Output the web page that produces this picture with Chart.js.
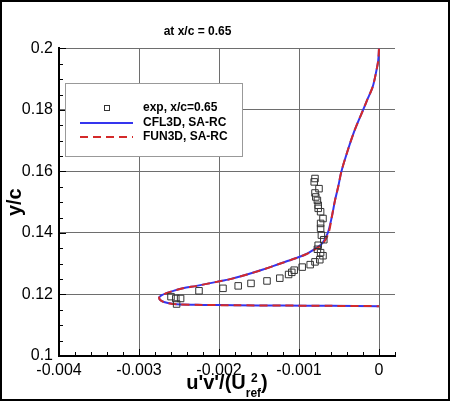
<!DOCTYPE html>
<html>
<head>
<meta charset="utf-8">
<title>u'v' profile at x/c = 0.65</title>
<script src="https://cdn.jsdelivr.net/npm/chart.js@4.4.0/dist/chart.umd.min.js"></script>
<style>
  html, body { margin: 0; padding: 0; background: #fff; }
  canvas { display: block; }
</style>
</head>
<body>
<canvas id="myChart" width="450" height="401"></canvas>
<script>
// experiment, x/c = 0.65
const expU = [-0.00080, -0.00081, -0.00075, -0.00080, -0.00079, -0.00077, -0.00076, -0.00076, -0.00073, -0.00070,
              -0.00073, -0.00073, -0.00072, -0.00069, -0.00076, -0.00077, -0.00073, -0.00070, -0.00074, -0.00080,
              -0.00086, -0.00096, -0.00106, -0.00109, -0.00113, -0.00124, -0.00140, -0.00160, -0.00176, -0.00195,
              -0.00225, -0.00248, -0.00254, -0.00260, -0.00253];
const expY = [0.1577, 0.1566, 0.1544, 0.1530, 0.1517, 0.1506, 0.1490, 0.1480, 0.1469, 0.1447,
              0.1431, 0.1415, 0.1393, 0.1378, 0.1360, 0.1347, 0.1336, 0.1326, 0.1313, 0.1306,
              0.1297, 0.1289, 0.1279, 0.1272, 0.1265, 0.1253, 0.1244, 0.1236, 0.1228, 0.1220,
              0.1212, 0.1187, 0.1187, 0.1193, 0.1169];

// CFL3D, SA-RC
const cflU = [0, -0.00001, -0.00004, -0.00008, -0.00015, -0.00020, -0.00027, -0.00032, -0.00039, -0.00047,
              -0.00051, -0.00055, -0.00059, -0.00064, -0.00071, -0.00082, -0.00092, -0.00106, -0.00125,
              -0.00145, -0.00165, -0.00186, -0.00203, -0.00228, -0.00245, -0.00258, -0.00266, -0.00272, -0.00275,
              -0.00272, -0.00264, -0.00253, -0.00220, -0.00180, -0.00120, -0.00060, 0];
const cflY = [0.2000, 0.1960, 0.1918, 0.1874, 0.1831, 0.1799, 0.1756, 0.1723, 0.1669, 0.1600,
              0.1550, 0.1506, 0.1452, 0.1400, 0.1366, 0.1345, 0.1330, 0.1316, 0.1299,
              0.1281, 0.1265, 0.1250, 0.1241, 0.1228, 0.1220, 0.1211, 0.1204, 0.1197, 0.1189,
              0.1179, 0.1172, 0.1168, 0.1166, 0.1165, 0.1164, 0.1163, 0.1162];

// FUN3D, SA-RC
const funU = [0, -0.00001, -0.00004, -0.00008, -0.00015, -0.00020, -0.00027, -0.00032, -0.00039, -0.00047,
              -0.00051, -0.00055, -0.00059, -0.00063, -0.00070, -0.00081, -0.00092, -0.00106, -0.00125,
              -0.00145, -0.00165, -0.00186, -0.00203, -0.00228, -0.00245, -0.00258, -0.00266, -0.00272, -0.00275,
              -0.00272, -0.00264, -0.00253, -0.00220, -0.00180, -0.00120, -0.00060, 0];
const funY = [0.2000, 0.1960, 0.1918, 0.1874, 0.1831, 0.1799, 0.1756, 0.1723, 0.1669, 0.1600,
              0.1550, 0.1506, 0.1452, 0.1400, 0.1366, 0.1345, 0.1330, 0.1316, 0.1299,
              0.1281, 0.1265, 0.1250, 0.1241, 0.1228, 0.1220, 0.1211, 0.1204, 0.1197, 0.1189,
              0.1179, 0.1172, 0.1168, 0.1166, 0.1165, 0.1164, 0.1163, 0.1162];

const xTickValues = [-0.004, -0.003, -0.002, -0.001, 0];
const xTickLabels = ['-0.004', '-0.003', '-0.002', '-0.001', '0'];
const yTickValues = [0.1, 0.12, 0.14, 0.16, 0.18, 0.2];
const yTickLabels = ['0.1', '0.12', '0.14', '0.16', '0.18', '0.2'];

Chart.defaults.font.family = "'Liberation Sans', Arial, Helvetica, sans-serif";
Chart.defaults.color = '#000';

function toPoints(xs, ys) {
  return xs.map((x, i) => ({ x: x, y: ys[i] }));
}

function majorIndex(values, v) {
  return values.findIndex(t => Math.abs(t - v) < 1e-9);
}

// inward ticks, legend box inside the plot, x title with sub/superscript, outer frame
const decorations = {
  id: 'decorations',
  afterDraw(chart) {
    const ctx = chart.ctx;
    const area = chart.chartArea;
    const xs = chart.scales.x;
    const ys = chart.scales.y;
    ctx.save();

    ctx.strokeStyle = '#000';
    ctx.lineWidth = 1;
    xs.ticks.forEach(t => {
      const px = Math.round(xs.getPixelForValue(t.value)) + 0.5;
      const len = majorIndex(xTickValues, t.value) >= 0 ? 7 : 4;
      ctx.beginPath();
      ctx.moveTo(px, area.bottom);
      ctx.lineTo(px, area.bottom - len);
      ctx.stroke();
    });
    ys.ticks.forEach(t => {
      const py = Math.round(ys.getPixelForValue(t.value)) + 0.5;
      const len = majorIndex(yTickValues, t.value) >= 0 ? 7 : 4;
      ctx.beginPath();
      ctx.moveTo(area.left, py);
      ctx.lineTo(area.left + len, py);
      ctx.stroke();
    });

    // legend
    const ds = chart.data.datasets;
    ctx.fillStyle = '#fff';
    ctx.fillRect(65.5, 83.5, 177, 73);
    ctx.strokeStyle = '#999';
    ctx.lineWidth = 1;
    ctx.strokeRect(65.5, 83.5, 177, 73);

    const rowY = [108, 123, 137];
    ctx.font = "bold 12px 'Liberation Sans', Arial, sans-serif";
    ctx.textBaseline = 'middle';
    ctx.textAlign = 'left';
    ds.forEach((d, i) => {
      const y = rowY[i];
      if (d.showLine) {
        ctx.strokeStyle = d.borderColor;
        ctx.lineWidth = d.borderWidth;
        ctx.setLineDash(d.borderDash || []);
        ctx.beginPath();
        ctx.moveTo(80, y);
        ctx.lineTo(133, y);
        ctx.stroke();
        ctx.setLineDash([]);
      } else {
        ctx.strokeStyle = d.borderColor;
        ctx.lineWidth = 1;
        ctx.strokeRect(104.5, y - 2.5, 5, 5);
      }
      ctx.fillStyle = '#000';
      ctx.fillText(d.label, 143, y);
    });

    // x axis title: u'v'/(U_ref^2)
    const big = "bold 20px 'Liberation Sans', Arial, sans-serif";
    const small = "bold 12px 'Liberation Sans', Arial, sans-serif";
    ctx.textBaseline = 'alphabetic';
    ctx.font = big;
    const wMain = ctx.measureText("u'v'/(U").width;
    const wClose = ctx.measureText(')').width;
    ctx.font = small;
    const wSub = ctx.measureText('ref').width;
    const wSup = ctx.measureText('2').width;
    const cx = (area.left + area.right) / 2;
    let x0 = cx - (wMain + wSub + wClose) / 2;
    ctx.fillStyle = '#000';
    ctx.font = big;
    ctx.fillText("u'v'/(U", x0, 389);
    ctx.font = small;
    ctx.fillText('ref', x0 + wMain, 397);
    ctx.fillText('2', x0 + wMain + (wSub - wSup) / 2 + 1, 382);
    ctx.font = big;
    ctx.fillText(')', x0 + wMain + wSub, 389);

    // outer frame
    ctx.strokeStyle = '#000';
    ctx.lineWidth = 2;
    ctx.strokeRect(1, 1, chart.width - 2, chart.height - 2);
    ctx.restore();
  }
};

const config = {
  type: 'scatter',
  data: {
    datasets: [
      {
        label: 'exp, x/c=0.65',
        data: toPoints(expU, expY),
        showLine: false,
        pointStyle: 'rect',
        pointRadius: 4.6,
        pointBorderWidth: 1,
        borderColor: '#333',
        backgroundColor: 'rgba(0,0,0,0)',
        order: 0
      },
      {
        label: 'CFL3D, SA-RC',
        data: toPoints(cflU, cflY),
        showLine: true,
        borderColor: '#3535ee',
        borderWidth: 2,
        pointRadius: 0,
        tension: 0.3,
        order: 2
      },
      {
        label: 'FUN3D, SA-RC',
        data: toPoints(funU, funY),
        showLine: true,
        borderColor: '#d42a2a',
        borderWidth: 2,
        borderDash: [8, 5],
        pointRadius: 0,
        tension: 0.3,
        order: 1
      }
    ]
  },
  options: {
    responsive: false,
    animation: false,
    layout: { padding: { left: 0, right: 55, top: 0, bottom: 0 } },
    plugins: {
      legend: { display: false },
      tooltip: { enabled: false },
      title: {
        display: true,
        text: 'at x/c = 0.65',
        color: '#000',
        font: { size: 12, weight: 'bold' },
        padding: { top: 24, bottom: 10 }
      }
    },
    scales: {
      x: {
        type: 'linear',
        position: 'bottom',
        min: -0.004,
        max: 0.0002,
        afterFit: s => { s.height = 45; },
        border: { color: '#000', width: 2 },
        grid: {
          drawTicks: false,
          lineWidth: 1,
          color: c => majorIndex(xTickValues, c.tick.value) >= 0 ? '#6e6e6e' : 'rgba(0,0,0,0)'
        },
        ticks: {
          stepSize: 0.0002,
          autoSkip: false,
          maxRotation: 0,
          padding: 5,
          color: '#000',
          font: { size: 16 },
          callback: v => {
            const i = majorIndex(xTickValues, v);
            return i >= 0 ? xTickLabels[i] : '';
          }
        }
      },
      y: {
        type: 'linear',
        min: 0.1,
        max: 0.2,
        afterFit: s => { s.width = 59; },
        border: { color: '#000', width: 2 },
        grid: {
          drawTicks: false,
          lineWidth: 1,
          color: c => majorIndex(yTickValues, c.tick.value) >= 0 ? '#6e6e6e' : 'rgba(0,0,0,0)'
        },
        ticks: {
          stepSize: 0.005,
          autoSkip: false,
          padding: 6,
          color: '#000',
          font: { size: 16 },
          callback: v => {
            const i = majorIndex(yTickValues, v);
            return i >= 0 ? yTickLabels[i] : '';
          }
        },
        title: {
          display: true,
          text: 'y/c',
          color: '#000',
          font: { size: 20, weight: 'bold' },
          padding: { top: 3, bottom: 0 }
        }
      }
    }
  },
  plugins: [decorations]
};

const myChart = new Chart(document.getElementById('myChart'), config);
</script>
</body>
</html>
